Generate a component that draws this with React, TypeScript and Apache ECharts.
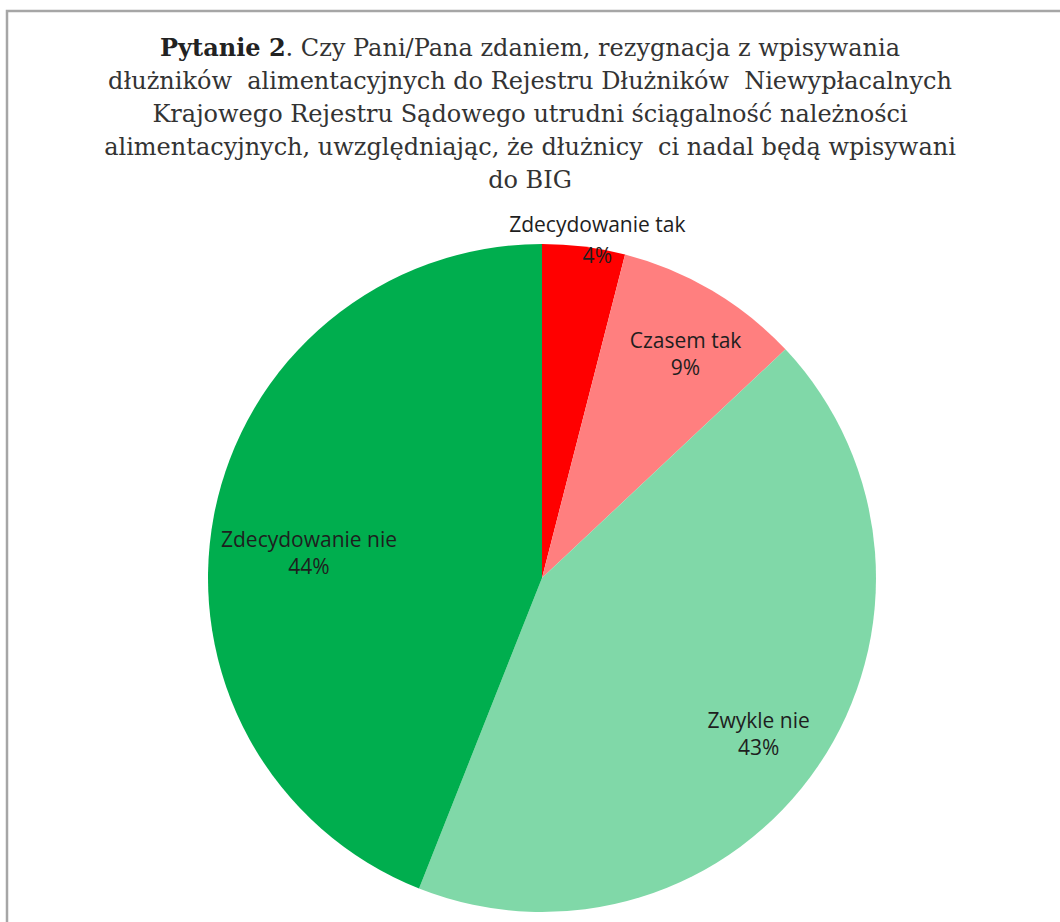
import React, { useEffect, useRef } from "react";
import * as echarts from "echarts";

const categories = ["Zdecydowanie tak", "Czasem tak", "Zwykle nie", "Zdecydowanie nie"];
const values = [4, 9, 43, 44];
const colors = ["#FF0000", "#FF7F7F", "#80D8A8", "#00AE4E"];
const labelOffsets: [number, number][] = [
  [34, -170],
  [57, -78],
  [76, 60],
  [-66, 6],
];
const titleLines = [
  "{b|Pytanie 2}. Czy Pani/Pana zdaniem, rezygnacja z wpisywania",
  "dłużników  alimentacyjnych do Rejestru Dłużników  Niewypłacalnych",
  "Krajowego Rejestru Sądowego utrudni ściągalność należności",
  "alimentacyjnych, uwzględniając, że dłużnicy  ci nadal będą wpisywani",
  "do BIG",
];

export default function App() {
  const ref = useRef<HTMLDivElement>(null);
  useEffect(() => {
    document.body.style.margin = "0";
    if (!ref.current) return;
    const chart = echarts.init(ref.current, undefined, { renderer: "svg" });
    chart.setOption({
      animation: false,
      backgroundColor: "#ffffff",
      title: {
        text: titleLines.join("\n"),
        left: "center",
        top: 26,
        textStyle: {
          fontFamily: "DejaVu Serif",
          fontSize: 24,
          fontWeight: "normal",
          color: "#333333",
          lineHeight: 33,
          rich: {
            b: {
              fontFamily: "DejaVu Serif",
              fontSize: 24,
              fontWeight: "bold",
              color: "#222222",
              lineHeight: 33,
            },
          },
        },
      },
      graphic: [
        {
          type: "polyline",
          shape: { points: [[7, 922], [7, 11], [1060, 11]] },
          style: { stroke: "#A6A6A6", lineWidth: 2.5, fill: "none" },
          silent: true,
        },
      ],
      series: [
        {
          type: "pie",
          center: [542, 578],
          radius: 334,
          startAngle: 90,
          clockwise: true,
          avoidLabelOverlap: false,
          label: {
            show: true,
            position: "inside",
            formatter: "{b}\n{c}%",
            fontFamily: "Open Sans",
            fontSize: 21,
            lineHeight: 27,
            color: "#1E1E1E",
          },
          labelLine: { show: false },
          itemStyle: { borderWidth: 0 },
          emphasis: { disabled: true },
          data: categories.map((name, i) => ({
            name,
            value: values[i],
            itemStyle: { color: colors[i] },
            label: { offset: labelOffsets[i], lineHeight: i === 0 ? 31 : 27 },
          })),
        },
      ],
    });
    return () => chart.dispose();
  }, []);
  return <div ref={ref} style={{ width: 1060, height: 922 }} />;
}
